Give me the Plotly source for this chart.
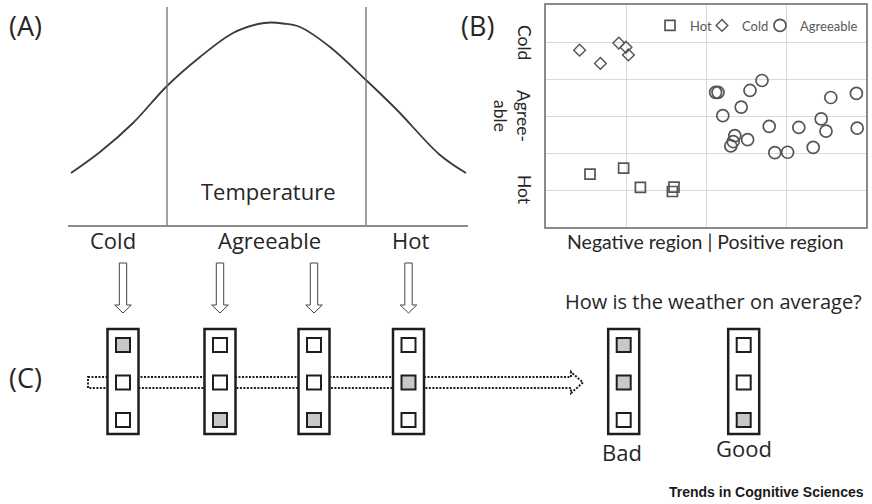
import plotly.graph_objects as go

# ---------------- data ----------------
# Panel A: schematic temperature distribution
temp_x = [3, 32, 65, 99, 132, 165, 190, 203, 215, 232, 262, 298, 329, 372, 398]
freq_y = [52, 73, 102, 139, 168, 192, 201, 202.5, 201.5, 198, 178, 145, 115, 70, 52]
temp_bounds = [99, 298]
temp_labels = ["Cold", "Agreeable", "Hot"]

# Panel B: scatter of regions
cold_x = [0.42, 0.68, 0.91, 1.00, 1.03]
cold_y = [4.78, 4.42, 4.97, 4.86, 4.65]
hot_x = [0.55, 0.97, 1.18, 1.60, 1.58]
hot_y = [1.43, 1.59, 1.07, 1.08, 0.96]
agr_x = [2.12, 2.15, 2.21, 2.44, 2.55, 2.70, 2.36, 2.34, 2.31, 2.52,
         2.79, 2.86, 3.02, 3.16, 3.34, 3.44, 3.50, 3.56, 3.88, 3.89]
agr_y = [3.64, 3.64, 3.01, 3.24, 3.69, 3.96, 2.47, 2.31, 2.19, 2.36,
         2.72, 2.01, 2.02, 2.69, 2.15, 2.92, 2.59, 3.50, 3.61, 2.67]
b_ytick_vals = [5, 3, 1]
b_ytick_text = ["Cold", "Agree-<br>able", "Hot"]

# Panel C: unit states (top, middle, bottom) for each input and outputs
input_states = [[1, 0, 0], [0, 0, 1], [0, 0, 1], [0, 1, 0]]
output_names = ["Bad", "Good"]
output_states = [[1, 1, 0], [0, 0, 1]]

# ---------------- layout constants ----------------
W, H = 872, 504
DARK = "#262626"
FONT = "Open Sans"
in_cx = [123, 220, 314, 408.5]
out_cx = [623.7, 743.7]
box_top, box_bot, box_hw = 329, 434, 15.5
cell_y = [345, 382.5, 420]
legend_left = [650, 702, 760]

fig = go.Figure()

# Panel A curve
fig.add_trace(go.Scatter(x=temp_x, y=freq_y, mode="lines", line=dict(color="#3a3a3a", width=1.8, shape="spline"),
                         xaxis="x3", yaxis="y3", showlegend=False, hoverinfo="skip"))

# Panel B scatter
mcol = "#555555"
fig.add_trace(go.Scatter(x=hot_x, y=hot_y, mode="markers", name="Hot", xaxis="x2", yaxis="y2",
                         legend="legend",
                         marker=dict(symbol="square-open", size=10, color=mcol, line=dict(width=1.7))))
fig.add_trace(go.Scatter(x=cold_x, y=cold_y, mode="markers", name="Cold", xaxis="x2", yaxis="y2",
                         legend="legend2",
                         marker=dict(symbol="diamond-open", size=9, color=mcol, line=dict(width=1.4))))
fig.add_trace(go.Scatter(x=agr_x, y=agr_y, mode="markers", name="Agreeable", xaxis="x2", yaxis="y2",
                         legend="legend3",
                         marker=dict(symbol="circle-open", size=12, color=mcol, line=dict(width=1.7))))

shapes = []
# Panel A boundaries
for b in temp_bounds:
    shapes.append(dict(type="line", xref="x3", yref="y3", x0=b, x1=b, y0=0, y1=218,
                       line=dict(color="#6e6e6e", width=1.3)))

# Dotted arrow (drawn first so boxes cover it)
ay0, ay1, ax0, ahx, atip = 377, 388, 88, 571, 583
shapes.append(dict(type="path", xref="x", yref="y", layer="below",
                   path=f"M {ax0},{ay0} L {ahx},{ay0} L {ahx},{ay0-5} L {atip},{(ay0+ay1)/2} "
                        f"L {ahx},{ay1+5} L {ahx},{ay1} L {ax0},{ay1} Z",
                   line=dict(color="#1e1e1e", width=2, dash="2px,1.5px")))

# Down arrows
for cx in in_cx:
    shapes.append(dict(type="path", xref="x", yref="y", layer="below",
                       path=f"M {cx-3.7},263 L {cx+3.7},263 L {cx+3.7},305 L {cx+8.3},305 L {cx},313 "
                            f"L {cx-8.3},305 L {cx-3.7},305 Z",
                       fillcolor="white", line=dict(color="#444444", width=1)))

# Boxes
for cx in in_cx + out_cx:
    shapes.append(dict(type="rect", xref="x", yref="y", layer="below",
                       x0=cx - box_hw, x1=cx + box_hw, y0=box_top, y1=box_bot,
                       fillcolor="white", line=dict(color="#1e1e1e", width=2.5)))

# Cells as markers
cx_list, cy_list, fill_list = [], [], []
for cx, st in zip(in_cx + out_cx, input_states + output_states):
    for cy, s in zip(cell_y, st):
        cx_list.append(cx)
        cy_list.append(cy)
        fill_list.append("#c8c8c8" if s else "white")
fig.add_trace(go.Scatter(x=cx_list, y=cy_list, mode="markers", xaxis="x", yaxis="y", showlegend=False,
                         hoverinfo="skip",
                         marker=dict(symbol="square", size=14, color=fill_list,
                                     line=dict(color="#1e1e1e", width=2))))

ann = []
def txt(x, y, s, size, xref="x", yref="y", **kw):
    d = dict(x=x, y=y, xref=xref, yref=yref, text=s, showarrow=False,
             font=dict(family=kw.pop("family", FONT), size=size, color=kw.pop("color", DARK)),
             xanchor=kw.pop("xanchor", "center"), yanchor=kw.pop("yanchor", "middle"))
    d.update(kw)
    ann.append(d)

txt(25.5, 25, "(A)", 27)
txt(477.5, 25, "(B)", 27)
txt(25.5, 377, "(C)", 27)
txt(268, 191, "Temperature", 22)
for lab, lx in zip(temp_labels, [113, 269, 410]):
    txt(lx, 240, lab, 22)
txt(713, 301, "How is the weather on average?", 20)
txt(621.7, 452, output_names[0], 22)
txt(743.8, 448, output_names[1], 22)
txt(705, 241, "Negative region | Positive region", 19.5, family="Lato")
for v, t in zip(b_ytick_vals, b_ytick_text):
    ann.append(dict(x=524 / W if "br" not in t else 512 / W, y=v, xref="paper", yref="y2", text=t,
                    showarrow=False, textangle=90, xanchor="center", yanchor="middle",
                    font=dict(family="Lato", size=17.5, color=DARK)))
txt(866, 492, "Trends in Cognitive Sciences", 14, family="Liberation Sans", xanchor="right",
    color="#1a1a1a")
ann[-1]["font"]["weight"] = "bold"

leg_common = dict(orientation="h", xanchor="left", y=1 - 25.5 / H, yanchor="middle",
                  bgcolor="rgba(0,0,0,0)", font=dict(family="Lato", size=13, color="#595959"),
                  itemwidth=30)

fig.update_layout(
    width=W, height=H, margin=dict(l=0, r=0, t=0, b=0),
    paper_bgcolor="white", plot_bgcolor="white",
    shapes=shapes, annotations=ann,
    xaxis=dict(domain=[0, 1], range=[0, W], visible=False, fixedrange=True),
    yaxis=dict(domain=[0, 1], range=[H, 0], visible=False, fixedrange=True),
    xaxis2=dict(domain=[546 / W, 866 / W], range=[0, 4], anchor="y2", dtick=1, showgrid=True,
                gridcolor="#d9d9d9", gridwidth=1, showline=True, mirror=True, linecolor="#8a8a8a",
                linewidth=1.5, ticks="", showticklabels=False, zeroline=False),
    yaxis2=dict(domain=[1 - 227 / H, 1 - 5 / H], range=[0, 6], anchor="x2", dtick=1, showgrid=True,
                gridcolor="#d9d9d9", gridwidth=1, showline=True, mirror=True, linecolor="#8a8a8a",
                linewidth=1.5, ticks="", showticklabels=False, zeroline=False),
    xaxis3=dict(domain=[68 / W, 468 / W], range=[0, 400], anchor="y3", showgrid=False, showline=True,
                linecolor="#8c8c8c", linewidth=2, ticks="", showticklabels=False, zeroline=False),
    yaxis3=dict(domain=[1 - 225 / H, 1], range=[0, 225], anchor="x3", visible=False),
    legend=dict(x=legend_left[0] / W, **leg_common),
    legend2=dict(x=legend_left[1] / W, **leg_common),
    legend3=dict(x=legend_left[2] / W, **leg_common),
    showlegend=True,
)

fig.write_html("out.html", config={"displayModeBar": False},
               post_script="document.body.style.margin='0';document.body.style.overflow='hidden';")
